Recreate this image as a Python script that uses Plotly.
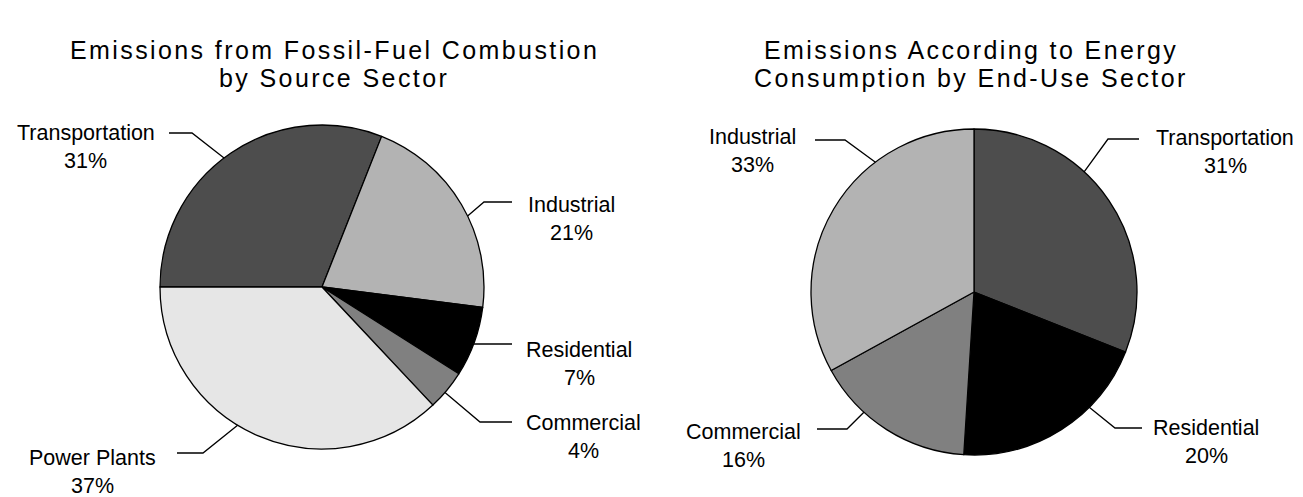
import math
import plotly.graph_objects as go

W, H = 1303, 497

# ---------------- data ----------------
left_labels = ["Transportation", "Industrial", "Residential", "Commercial", "Power Plants"]
left_values = [31, 21, 7, 4, 37]

right_labels = ["Transportation", "Residential", "Commercial", "Industrial"]
right_values = [31, 20, 16, 33]

left_title = ["Emissions from Fossil-Fuel Combustion", "by Source Sector"]
right_title = ["Emissions According to Energy", "Consumption by End-Use Sector"]

# ---------------- styles ----------------
colors = {
    "Transportation": "#4d4d4d",
    "Industrial": "#b3b3b3",
    "Residential": "#000000",
    "Commercial": "#808080",
    "Power Plants": "#e6e6e6",
}
FONT = "Liberation Sans"
LABEL_SIZE = 21.5
TITLE_SIZE = 25
TITLE_SPACING = "2.4px"
PCT_DY = 28
TITLE_Y = (50, 78)

# pie boxes in pixels (x0, y0, x1, y1) and start rotation
pies = [
    dict(labels=left_labels, values=left_values, box=(160, 125, 484, 449), rotation=270,
         title=left_title, title_x=334,
         # label: (angle shift deg, elbow px, end px, text center px)
         lab=dict(
             Transportation=(-3, (192, 133), (169, 133), (86, 133)),
             Industrial=(4.6, (484, 202), (512, 202), (571, 205)),
             Residential=(0.6, None, (512, 344), (579, 350)),
             Commercial=(1, (480, 422), (512, 422), (583, 423)),
             **{"Power Plants": (8, (203, 453), (177, 453), (93, 458))},
         )),
    dict(labels=right_labels, values=right_values, box=(811, 129, 1137, 455), rotation=0,
         title=right_title, title_x=971,
         lab=dict(
             Transportation=(-13.3, (1108, 139), (1139, 139), (1225, 138)),
             Residential=(-12.6, (1115, 428), (1142, 428), (1206, 428)),
             Commercial=(10.1, (847, 429), (817, 429), (744, 432)),
             Industrial=(22.2, (845, 140), (815, 140), (752, 137)),
         )),
]


def px(x):
    return x / W


def py(y):
    return 1 - y / H


fig = go.Figure()
shapes = []
annotations = []

for p in pies:
    x0, y0, x1, y1 = p["box"]
    fig.add_trace(go.Pie(
        labels=p["labels"], values=p["values"], sort=False, direction="clockwise",
        rotation=p["rotation"], textinfo="none", showlegend=False,
        marker=dict(colors=[colors[l] for l in p["labels"]], line=dict(color="black", width=1.3)),
        domain=dict(x=[px(x0), px(x1)], y=[py(y1), py(y0)]),
    ))
    cx, cy = (x0 + x1) / 2, (y0 + y1) / 2
    r = min(x1 - x0, y1 - y0) / 2
    total = sum(p["values"])
    cum = 0
    for lab, v in zip(p["labels"], p["values"]):
        shift, elbow, end, tc = p["lab"][lab]
        ang = math.radians(p["rotation"] + (cum + v / 2) / total * 360 + shift)
        cum += v
        sx, sy = cx + r * math.sin(ang), cy - r * math.cos(ang)
        pts = [(sx, sy)]
        if elbow is not None:
            pts.append(elbow)
        else:
            pts[0] = (sx, end[1])
        pts.append(end)
        path = "M " + " L ".join(f"{px(a):.5f},{py(b):.5f}" for a, b in pts)
        shapes.append(dict(type="path", path=path, xref="paper", yref="paper",
                           line=dict(color="black", width=1.3)))
        pct = f"{round(v / total * 100)}%"
        for txt, yy in ((lab, tc[1]), (pct, tc[1] + PCT_DY)):
            annotations.append(dict(text=txt, x=px(tc[0]), y=py(yy), xref="paper", yref="paper",
                                    xanchor="center", yanchor="middle", showarrow=False,
                                    font=dict(family=FONT, size=LABEL_SIZE, color="black")))
    for line, ty in zip(p["title"], TITLE_Y):
        annotations.append(dict(
            text=f"<span style='letter-spacing:{TITLE_SPACING}'>{line}</span>",
            x=px(p["title_x"]), y=py(ty),
            xref="paper", yref="paper", xanchor="center", yanchor="middle",
            showarrow=False,
            font=dict(family=FONT, size=TITLE_SIZE, color="black")))

fig.update_layout(
    width=W, height=H, margin=dict(l=0, r=0, t=0, b=0),
    paper_bgcolor="white", plot_bgcolor="white",
    shapes=shapes, annotations=annotations,
)

fig.write_html("out.html")
